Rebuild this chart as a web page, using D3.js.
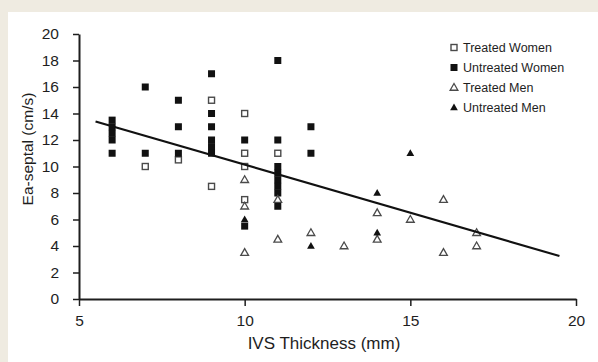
<!DOCTYPE html>
<html>
<head>
<meta charset="utf-8">
<script src="https://cdn.jsdelivr.net/npm/d3@7"></script>
<style>
  body { margin: 0; background: #efebe1; }
  svg { display: block; font-family: "Liberation Sans", Arial, sans-serif; }
</style>
</head>
<body>
<svg id="chart" width="598" height="362"></svg>
<script>
// Treated women
const twX = [7, 8, 9, 9, 10, 10, 10, 10, 11];
const twY = [10, 10.5, 15, 8.5, 14, 11, 10, 7.5, 11];
// Untreated women
const uwX = [6, 6, 6, 6, 6, 7, 7, 8, 8, 8, 9, 9, 9, 9, 9, 9, 10, 10, 11, 11, 11, 11, 11, 11, 11, 11, 12, 12];
const uwY = [13.5, 13, 12.5, 12, 11, 16, 11, 15, 13, 11, 17, 14, 13, 12, 11.5, 11, 12, 5.5, 18, 12, 10, 9.5, 9, 8.5, 8, 7, 13, 11];
// Treated men
const tmX = [10, 10, 10, 11, 11, 12, 13, 14, 14, 15, 16, 16, 17, 17];
const tmY = [9, 7, 3.5, 7.5, 4.5, 5, 4, 6.5, 4.5, 6, 7.5, 3.5, 5, 4];
// Untreated men
const umX = [10, 12, 14, 14, 15];
const umY = [6, 4, 8, 5, 11];
// regression line end points
const fitX = [5.5, 19.5];
const fitY = [13.4, 3.25];

const xTicks = [5, 10, 15, 20];
const yTicks = [0, 2, 4, 6, 8, 10, 12, 14, 16, 18, 20];

const svg = d3.select("#chart");

// white panel on beige page
svg.append("rect").attr("x", 8).attr("y", 12).attr("width", 590).attr("height", 350).attr("fill", "#fff");

const x = d3.scaleLinear().domain([5, 20]).range([79, 576]);
const y = d3.scaleLinear().domain([0, 20]).range([299, 34]);

const ink = "#1e1e1e";

// x axis
const gx = svg.append("g").attr("transform", "translate(0,299)")
  .call(d3.axisBottom(x).tickValues(xTicks).tickSize(7).tickPadding(9).tickSizeOuter(0));
gx.selectAll("text").attr("font-size", 15.5).attr("fill", ink).attr("font-family", "Liberation Sans, Arial, sans-serif");

// y axis
const gy = svg.append("g").attr("transform", "translate(79,0)")
  .call(d3.axisLeft(y).tickValues(yTicks).tickSize(6).tickPadding(14).tickSizeOuter(0));
gy.selectAll("text").attr("font-size", 15.5).attr("fill", ink).attr("font-family", "Liberation Sans, Arial, sans-serif");

svg.selectAll(".domain").attr("stroke", ink).attr("stroke-width", 2);
svg.selectAll(".tick line").attr("stroke", ink).attr("stroke-width", 1.5);

svg.append("text")
  .attr("x", 324).attr("y", 349)
  .attr("text-anchor", "middle").attr("font-size", 17).attr("fill", ink)
  .text("IVS Thickness (mm)");

svg.append("text")
  .attr("transform", "translate(33,149) rotate(-90)")
  .attr("text-anchor", "middle").attr("font-size", 15.5).attr("fill", ink)
  .text("Ea-septal (cm/s)");

// marker drawers
function openSquare(g, cx, cy) {
  g.append("rect").attr("x", cx - 3).attr("y", cy - 3).attr("width", 6).attr("height", 6)
    .attr("fill", "#fff").attr("stroke", "#4a4a4a").attr("stroke-width", 1.4);
}
function fillSquare(g, cx, cy) {
  g.append("rect").attr("x", cx - 3.5).attr("y", cy - 3.5).attr("width", 7).attr("height", 7)
    .attr("fill", "#111");
}
const tri = d3.symbol().type(d3.symbolTriangle).size(26);
function openTri(g, cx, cy) {
  g.append("path").attr("d", tri).attr("transform", `translate(${cx},${cy + 0.5})`)
    .attr("fill", "#fff").attr("stroke", "#4a4a4a").attr("stroke-width", 1.3);
}
function fillTri(g, cx, cy) {
  g.append("path").attr("d", tri).attr("transform", `translate(${cx},${cy + 0.5})`)
    .attr("fill", "#111");
}

const series = [
  { name: "Treated Women", xs: twX, ys: twY, draw: openSquare },
  { name: "Untreated Women", xs: uwX, ys: uwY, draw: fillSquare },
  { name: "Treated Men", xs: tmX, ys: tmY, draw: openTri },
  { name: "Untreated Men", xs: umX, ys: umY, draw: fillTri }
];

const pts = svg.append("g");
series.forEach(s => {
  s.xs.forEach((v, i) => s.draw(pts, x(v), y(s.ys[i])));
});

// trend line
svg.append("path")
  .datum(fitX.map((v, i) => [v, fitY[i]]))
  .attr("d", d3.line().x(d => x(d[0])).y(d => y(d[1])))
  .attr("fill", "none").attr("stroke", "#111").attr("stroke-width", 2.2);

// legend
const legend = svg.append("g");
series.forEach((s, i) => {
  const cy = 47.5 + i * 20;
  s.draw(legend, 454, cy);
  legend.append("text").attr("x", 463).attr("y", cy + 4.5)
    .attr("font-size", 12.5).attr("fill", ink).text(s.name);
});
</script>
</body>
</html>
